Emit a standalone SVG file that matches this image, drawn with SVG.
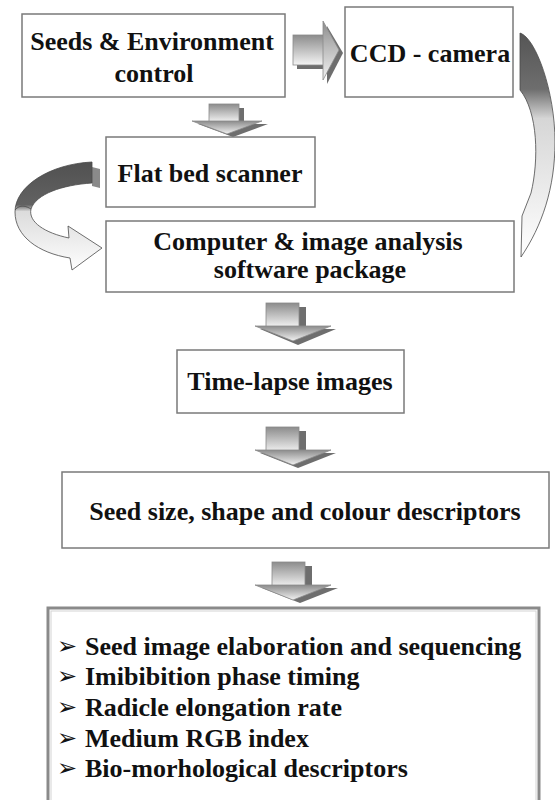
<svg xmlns="http://www.w3.org/2000/svg" width="555" height="800" viewBox="0 0 555 800">
  <style>
    .box { fill: #ffffff; stroke: #7a7a7a; stroke-width: 1.5; }
    .lbl { font-family: "Liberation Serif", "Times New Roman", serif; font-weight: bold; font-size: 26px; fill: #111; }
    .list { font-family: "Liberation Serif", "Times New Roman", serif; font-weight: bold; font-size: 26px; fill: #111; }
    .bullet { font-family: "DejaVu Sans", sans-serif; font-size: 24px; fill: #111; }
    .shadow { fill: #6e6e6e; }
    .edge { stroke: #8a8a8a; stroke-width: 0.8; }
  </style>
  <defs>
    <linearGradient id="gDown" x1="0" y1="0" x2="0" y2="1">
      <stop offset="0" stop-color="#8c8c8c"/>
      <stop offset="1" stop-color="#f2f2f2"/>
    </linearGradient>
    <linearGradient id="gRight" x1="0" y1="0" x2="0" y2="1">
      <stop offset="0" stop-color="#8c8c8c"/>
      <stop offset="1" stop-color="#f4f4f4"/>
    </linearGradient>
    <linearGradient id="gCurveL" gradientUnits="userSpaceOnUse" x1="0" y1="160" x2="0" y2="272">
      <stop offset="0" stop-color="#505050"/>
      <stop offset="0.4" stop-color="#626262"/>
      <stop offset="0.46" stop-color="#dcdcdc"/>
      <stop offset="1" stop-color="#ffffff"/>
    </linearGradient>
    <linearGradient id="gCurveR" gradientUnits="userSpaceOnUse" x1="0" y1="33" x2="0" y2="258">
      <stop offset="0" stop-color="#555555"/>
      <stop offset="0.25" stop-color="#6e6e6e"/>
      <stop offset="0.38" stop-color="#d6d6d6"/>
      <stop offset="1" stop-color="#ffffff"/>
    </linearGradient>
  </defs>

  <rect width="555" height="800" fill="#ffffff"/>

  <!-- block arrows and curved arrows -->
  <g id="connectors">
    <!-- seeds -> CCD camera -->
    <g id="arrow-right">
      <rect class="shadow" x="297" y="40" width="30" height="29"/>
      <polygon class="shadow" points="327,26 343,53 327,84"/>
      <rect class="edge" x="293" y="35" width="31" height="30" fill="url(#gRight)"/>
      <polygon class="edge" points="323,21 339,50 323,80" fill="url(#gRight)"/>
    </g>
    <!-- seeds -> flat bed scanner -->
    <g id="arrow-down-1">
      <rect class="shadow" x="214" y="108" width="30" height="17"/>
      <polygon class="shadow" points="198,124 268,124 233,137"/>
      <rect class="edge" x="209" y="104" width="30" height="18" fill="url(#gDown)"/>
      <polygon class="edge" points="192,121 262,121 227,134" fill="url(#gDown)"/>
    </g>
    <!-- computer -> time-lapse images -->
    <g id="arrow-down-2">
      <rect class="shadow" x="272" y="307" width="34" height="24"/>
      <polygon class="shadow" points="260,329 336,329 298,345"/>
      <rect class="edge" x="266" y="303" width="33" height="24" fill="url(#gDown)"/>
      <polygon class="edge" points="255,326 331,326 293,341" fill="url(#gDown)"/>
    </g>
    <!-- time-lapse -> seed descriptors -->
    <g id="arrow-down-3">
      <rect class="shadow" x="272" y="431" width="34" height="24"/>
      <polygon class="shadow" points="260,453 336,453 298,468"/>
      <rect class="edge" x="266" y="427" width="33" height="25" fill="url(#gDown)"/>
      <polygon class="edge" points="255,450 331,450 293,465" fill="url(#gDown)"/>
    </g>
    <!-- seed descriptors -> results -->
    <g id="arrow-down-4">
      <rect class="shadow" x="278" y="566" width="34" height="24"/>
      <polygon class="shadow" points="262,588 338,588 300,603"/>
      <rect class="edge" x="272" y="562" width="33" height="25" fill="url(#gDown)"/>
      <polygon class="edge" points="255,585 331,585 293,600" fill="url(#gDown)"/>
    </g>
    <!-- flat bed scanner -> computer (curved, left side) -->
    <g id="curve-left">
      <path fill="#8a8a8a" d="M92,167 L100,169 L100,188 L92,186 Z"/>
      <path fill="url(#gCurveL)" stroke="#4a4a4a" stroke-width="0.8"
            d="M92,162 L92,183 C62,185 36,194 31,209
               C28,222 45,233 69,238 L68,226 L102,248 L72,270 L70,258
               C38,253 15,236 15,212 C15,186 50,164 92,162 Z"/>
      <path fill="none" stroke="#4a4a4a" stroke-width="0.8" d="M15,210 C20,204 26,206 31,209"/>
    </g>
    <!-- CCD camera -> computer (curved, right side) -->
    <g id="curve-right">
      <path fill="url(#gCurveR)" stroke="#4a4a4a" stroke-width="0.8"
            d="M520,33 C536,38 555,92 555,142 C555,188 542,226 521,257
               L522,216 L531,193 C539,160 538,112 520,90 Z"/>
    </g>
  </g>

  <g id="node-seeds">
    <rect class="box" x="22" y="14" width="263" height="83"/>
    <text class="lbl" x="152" y="50" text-anchor="middle">Seeds &amp; Environment</text>
    <text class="lbl" x="154" y="82" text-anchor="middle">control</text>
  </g>

  <g id="node-ccd">
    <rect class="box" x="345" y="7" width="168" height="90"/>
    <text class="lbl" x="430" y="62" text-anchor="middle">CCD - camera</text>
  </g>

  <g id="node-scanner">
    <rect class="box" x="106" y="137" width="209" height="70"/>
    <text class="lbl" x="210" y="182" text-anchor="middle">Flat bed scanner</text>
  </g>

  <g id="node-computer">
    <rect class="box" x="106" y="221" width="408" height="71"/>
    <text class="lbl" x="308" y="250" text-anchor="middle">Computer &amp; image analysis</text>
    <text class="lbl" x="310" y="278" text-anchor="middle">software package</text>
  </g>

  <g id="node-timelapse">
    <rect class="box" x="177" y="350" width="227" height="63"/>
    <text class="lbl" x="290" y="390" text-anchor="middle">Time-lapse images</text>
  </g>

  <g id="node-descriptors">
    <rect class="box" x="62" y="472" width="487" height="76"/>
    <text class="lbl" x="305" y="520" text-anchor="middle">Seed size, shape and colour descriptors</text>
  </g>

  <g id="node-results">
    <rect x="48" y="608" width="491" height="200" fill="#ffffff" stroke="#8a8a8a" stroke-width="3"/>
    <rect x="51" y="611" width="485" height="200" fill="none" stroke="#d4d4d4" stroke-width="1"/>
    <text class="bullet" x="57" y="654">➢</text>
    <text class="bullet" x="57" y="684">➢</text>
    <text class="bullet" x="57" y="715">➢</text>
    <text class="bullet" x="57" y="746">➢</text>
    <text class="bullet" x="57" y="776">➢</text>
    <text class="list" x="85" y="655">Seed image elaboration and sequencing</text>
    <text class="list" x="85" y="685">Imibibition phase timing</text>
    <text class="list" x="85" y="716">Radicle elongation rate</text>
    <text class="list" x="85" y="747">Medium RGB index</text>
    <text class="list" x="85" y="777">Bio-morhological descriptors</text>
  </g>
</svg>
